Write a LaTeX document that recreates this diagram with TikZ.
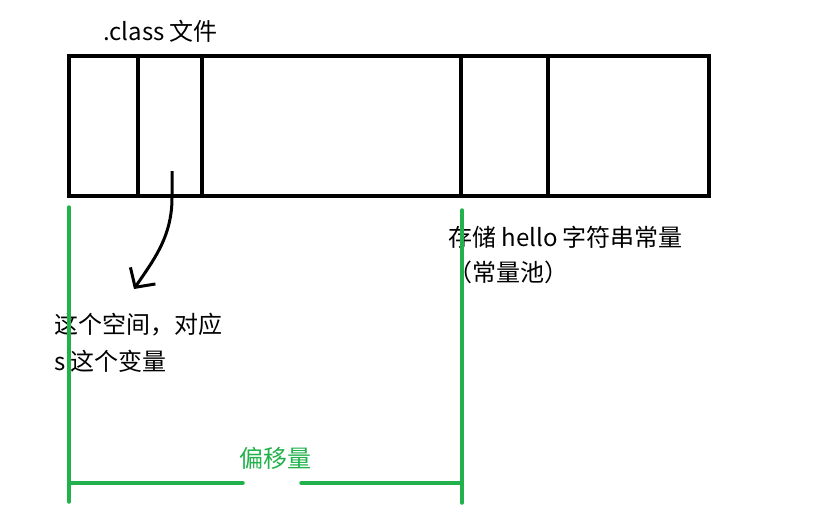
\documentclass[tikz,border=0pt]{standalone}
\usepackage{fontspec}
\usepackage{xcolor}
\setmainfont{Noto Sans CJK SC}
\usetikzlibrary{arrows.meta}
\definecolor{paintgreen}{HTML}{22B14C}

\begin{document}
\begin{tikzpicture}[x=1pt,y=-1pt]
	
	\useasboundingbox (0,0) rectangle (813,517);
	
	% the .class file
	\draw[line width=4.5pt] (69,56) rectangle (709,196);
	\foreach \xs in {138,202,461,548}
	\draw[line width=4.5pt] (\xs,56) to (\xs,196);
	
	\tikzstyle{every node}=[inner sep=0pt, anchor=west, font=\fontsize{24}{28}\selectfont]
	
	\node (cls) at (103,31) {.class 文件};
	\node (spaceA) at (54,325) {这个空间，对应};
	\node (spaceB) at (54,361) {s 这个变量};
	\node (pool) at (448,237) {存储 hello 字符串常量};
	\node (poolB) at (448,272) {（常量池）};
	
	% hand drawn arrow
	\coordinate (from) at (172,171);
	\coordinate (tip) at (134,289);
	\draw[line width=3pt, -{Straight Barb[length=14pt,width=30pt]}]
	(from) -- (172,198) .. controls (172,238) and (152,262) .. (tip);
	
	% offset
	\coordinate (la) at (69,207);
	\coordinate (lb) at (69,502);
	\coordinate (ra) at (462,210);
	\coordinate (rb) at (462,503);
	\coordinate (ma) at (243,483);
	\coordinate (mb) at (301,483);
	\draw[paintgreen, line width=3.5pt, line cap=round] (la) to (lb);
	\draw[paintgreen, line width=3.5pt, line cap=round] (ra) to (rb);
	\draw[paintgreen, line width=3.5pt, line cap=round] (69,483) to (ma);
	\draw[paintgreen, line width=3.5pt, line cap=round] (mb) to (462,483);
	
	\node[text=paintgreen] (off) at (239,458) {偏移量};
	
\end{tikzpicture}
\end{document}
